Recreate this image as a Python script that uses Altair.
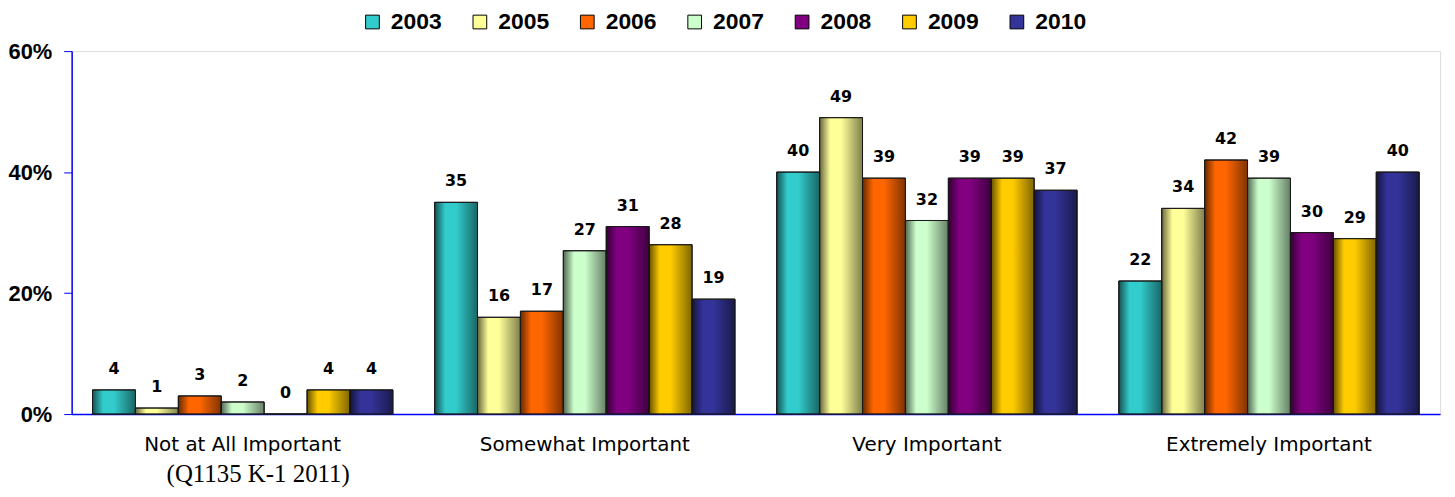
import altair as alt
import pandas as pd

categories = ["Not at All Important", "Somewhat Important", "Very Important", "Extremely Important"]
years = ["2003", "2005", "2006", "2007", "2008", "2009", "2010"]
colors = ["#33CCCC", "#FFFF99", "#FF6600", "#CCFFCC", "#800080", "#FFCC00", "#333399"]

v2003 = [4, 35, 40, 22]
v2005 = [1, 16, 49, 34]
v2006 = [3, 17, 39, 42]
v2007 = [2, 27, 32, 39]
v2008 = [0, 31, 39, 30]
v2009 = [4, 28, 39, 29]
v2010 = [4, 19, 37, 40]

series = [v2003, v2005, v2006, v2007, v2008, v2009, v2010]
rows = []
for yr, vals in zip(years, series):
    for cat, v in zip(categories, vals):
        rows.append({"category": cat, "year": yr, "value": v})
df = pd.DataFrame(rows)

base = alt.Chart(df).encode(
    x=alt.X(
        "category:N",
        sort=categories,
        scale=alt.Scale(paddingInner=0.122, paddingOuter=0.061),
        axis=alt.Axis(
            title="(Q1135 K-1 2011)",
            titleFont="Liberation Serif",
            titleFontSize=25,
            titleFontWeight="normal",
            titleColor="#000000",
            titleX=95,
            titleY=68,
            titleAlign="left",
            titleBaseline="alphabetic",
            labelAngle=0,
            labelLimit=0,
            labelFont="DejaVu Sans",
            labelFontSize=20,
            labelColor="#000000",
            labelPadding=21,
            ticks=False,
            domainColor="#0000FF",
            domainWidth=1.5,
        ),
    ),
    xOffset=alt.XOffset("year:N", sort=years, scale=alt.Scale(domain=years, paddingInner=0, paddingOuter=0)),
    y=alt.Y(
        "value:Q",
        scale=alt.Scale(domain=[0, 60]),
        axis=alt.Axis(
            title=None,
            values=[0, 20, 40, 60],
            labelExpr="datum.value + '%'",
            labelFont="Liberation Sans",
            labelFontWeight="bold",
            labelFontSize=22,
            labelColor="#000000",
            labelPadding=12,
            tickSize=8,
            tickColor="#0000FF",
            domainColor="#0000FF",
            domainWidth=1.5,
            grid=False,
        ),
    ),
)

bars = base.mark_bar(stroke="#1a1a1a", strokeWidth=1).encode(
    color=alt.Color(
        "year:N",
        scale=alt.Scale(domain=years, range=colors),
        legend=alt.Legend(
            title=None,
            orient="none",
            legendX=291,
            legendY=-41,
            direction="horizontal",
            symbolType="square",
            symbolSize=190,
            symbolStrokeColor="#000000",
            symbolStrokeWidth=1,
            symbolOpacity=1,
            labelFont="Liberation Sans",
            labelFontWeight="bold",
            labelFontSize=23,
            labelColor="#000000",
            labelOffset=7,
            columnPadding=26,
        ),
    )
)

shade = base.mark_bar(
    fill=alt.Gradient(
        gradient="linear",
        x1=0, x2=1, y1=0, y2=0,
        stops=[
            alt.GradientStop(color="rgba(0,0,0,0.6)", offset=0),
            alt.GradientStop(color="rgba(0,0,0,0.0)", offset=0.25),
            alt.GradientStop(color="rgba(0,0,0,0.0)", offset=0.5),
            alt.GradientStop(color="rgba(0,0,0,0.5)", offset=1),
        ],
    ),
    stroke="#1a1a1a",
    strokeWidth=1,
)

labels = base.mark_text(
    font="DejaVu Sans",
    fontWeight="bold",
    fontSize=16,
    color="#000000",
    baseline="alphabetic",
    dy=-16,
).encode(text="value:Q")

chart = alt.layer(bars, shade, labels).properties(
    width=1376,
    height=365,
    padding={"left": 64, "top": 42, "right": 7, "bottom": 74},
    autosize=alt.AutoSizeParams(type="none"),
).configure_view(stroke="#8080FF", strokeWidth=1.5).configure(background="white")

chart.save("out.html", embed_options={"renderer": "svg", "actions": False})
